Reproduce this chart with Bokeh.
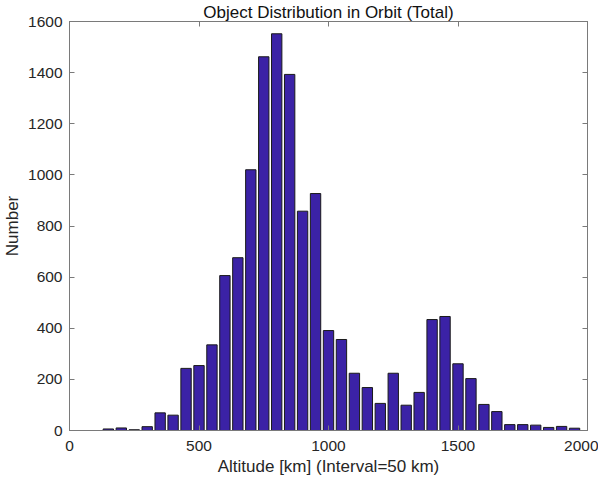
from bokeh.plotting import figure
from bokeh.models import LinearAxis, FixedTicker, Range1d
from bokeh.embed import file_html
from bokeh.resources import INLINE

altitudes = [150, 200, 250, 300, 350, 400, 450, 500, 550, 600, 650, 700, 750, 800, 850, 900, 950,
             1000, 1050, 1100, 1150, 1200, 1250, 1300, 1350, 1400, 1450, 1500, 1550, 1600, 1650,
             1700, 1750, 1800, 1850, 1900, 1950]
counts = [6, 10, 3, 15, 69, 60, 243, 254, 335, 606, 676, 1020, 1462, 1552, 1393, 858, 927,
          391, 356, 224, 168, 106, 224, 99, 149, 434, 446, 261, 203, 102, 74,
          23, 23, 21, 12, 16, 9]
x_ticks = [0, 500, 1000, 1500, 2000]
y_ticks = [0, 200, 400, 600, 800, 1000, 1200, 1400, 1600]

FONT = "Liberation Sans"
TXT = "#262626"
AX = "#7a7a7a"

p = figure(frame_width=518, frame_height=409, output_backend="svg", toolbar_location=None,
           x_range=Range1d(0, 2000), y_range=Range1d(0, 1600),
           title="Object Distribution in Orbit (Total)",
           min_border_left=64, min_border_right=11, min_border_top=19, min_border_bottom=0)
p.vbar(x=altitudes, top=counts, width=40, fill_color="#3b22a6", line_color="#1a1a1a", line_width=1)

p.title.align = "center"
p.title.text_font = FONT
p.title.text_font_size = "17px"
p.title.text_font_style = "normal"
p.title.text_color = "#111111"
p.title.standoff = 0
p.title.offset = 0

p.xgrid.visible = False
p.ygrid.visible = False
p.outline_line_color = AX

for ax in p.xaxis + p.yaxis:
    ax.major_tick_in = 5
    ax.major_tick_out = 0
    ax.minor_tick_in = 0
    ax.minor_tick_out = 0
    ax.axis_line_color = AX
    ax.major_tick_line_color = AX
    ax.major_label_text_font = FONT
    ax.major_label_text_font_size = "15.5px"
    ax.major_label_text_color = TXT
    ax.axis_label_text_font = FONT
    ax.axis_label_text_font_size = "17px"
    ax.axis_label_text_font_style = "normal"
    ax.axis_label_text_color = TXT

p.xaxis.ticker = FixedTicker(ticks=x_ticks)
p.yaxis.ticker = FixedTicker(ticks=y_ticks)
p.xaxis.axis_label = "Altitude [km] (Interval=50 km)"
p.yaxis.axis_label = "Number"
p.xaxis.major_label_standoff = 10
p.yaxis.major_label_standoff = 7
p.xaxis.axis_label_standoff = 3
p.yaxis.axis_label_standoff = 3

top_ax = LinearAxis(ticker=FixedTicker(ticks=x_ticks),
                    major_label_overrides={t: "" for t in x_ticks},
                    major_tick_in=5, major_tick_out=0, minor_tick_in=0, minor_tick_out=0,
                    axis_line_color=AX, major_tick_line_color=AX, major_label_standoff=0)
right_ax = LinearAxis(ticker=FixedTicker(ticks=y_ticks),
                      major_label_overrides={t: "" for t in y_ticks},
                      major_tick_in=5, major_tick_out=0, minor_tick_in=0, minor_tick_out=0,
                      axis_line_color=AX, major_tick_line_color=AX, major_label_standoff=0)
p.add_layout(top_ax, "above")
p.add_layout(right_ax, "right")

open("out.html", "w").write(file_html(p, INLINE))
